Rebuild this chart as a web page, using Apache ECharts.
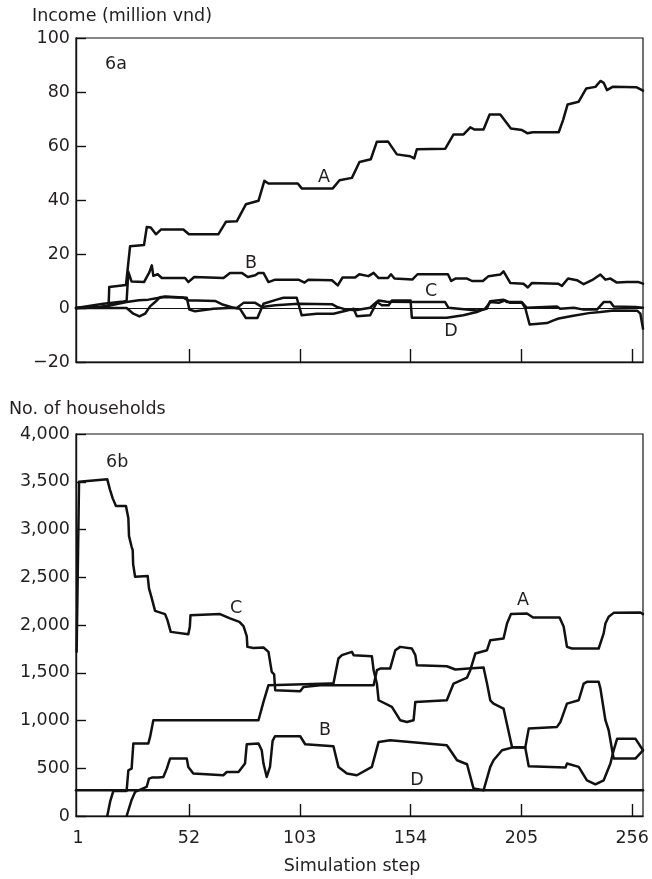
<!DOCTYPE html>
<html>
<head>
<meta charset="utf-8">
<script src="https://cdn.jsdelivr.net/npm/echarts@6/dist/echarts.min.js"></script>
<style>
  html, body { margin: 0; padding: 0; background: #fff; }
  #chart { width: 652px; height: 879px; }
</style>
</head>
<body>
<div id="chart"></div>
<script>
// Simulation steps shown on the shared x axis
const stepTicks = [1, 52, 103, 154, 205, 256];

// 6a: income per household group (million vnd), [step, value]
const incomeA = [[0,0],[11,0.2],[15,0.5],[15.3,7.8],[23,8.5],[24.9,22.9],[31.3,23.3],[32.6,30.0],[34.4,29.8],[36.8,27.3],[39.2,29.1],[49.4,29.1],[52,27.3],[65.5,27.3],[69,31.9],[74,32.1],[78.2,38.4],[84,39.7],[86.7,47.1],[88.6,46.1],[102.1,46.1],[103.9,44.3],[118.2,44.3],[121.3,47.3],[127,48.2],[130.5,54.1],[135.7,55.1],[138.5,61.6],[143.6,61.7],[147.7,56.9],[153.8,56.2],[155.7,55.4],[156.9,58.8],[170,59],[173.8,64.3],[178.4,64.3],[181.5,66.9],[183.5,66.1],[187.6,66.1],[190.4,71.7],[195.3,71.7],[200.2,66.5],[205.3,65.9],[207.9,64.7],[210.2,65.1],[222.2,65.1],[224.2,69.6],[226.3,75.4],[231.4,76.4],[234.9,81.3],[239.1,81.9],[241.4,84.1],[242.9,83.4],[244.4,80.7],[247,81.9],[257.9,81.8],[261,80.5]];
const incomeB = [[0,0],[12.6,1.6],[21.8,2.4],[23.3,2.6],[24.1,13.4],[25.6,9.8],[31.3,9.6],[33.8,13.3],[34.9,15.8],[35.6,11.9],[37.6,12.5],[39.5,11.1],[50.2,11.1],[51.7,9.6],[54.4,11.5],[67.9,11.1],[70.9,13.0],[76.3,13.0],[79.1,11.5],[82.5,12.1],[84,13.0],[86.3,13.0],[88.6,9.6],[91.7,10.5],[102.4,10.5],[105.2,9.4],[107,10.5],[117.8,10.3],[120.5,8.4],[122.7,11.3],[128.5,11.3],[130.4,12.5],[134.6,11.8],[137,13.0],[139.3,11.1],[143.6,11.1],[145,12.5],[146.6,10.9],[154.9,10.6],[157.2,12.5],[171.2,12.5],[172.7,10.0],[174.6,10.9],[180,10.9],[182.3,10.0],[187.3,10.0],[189.9,11.8],[195.3,12.4],[196.8,13.6],[199.9,9.3],[206,9.0],[208,7.6],[209.9,9.3],[221.9,9.0],[223.7,8.2],[226.5,10.9],[230.6,10.3],[233.7,8.8],[237.5,10.3],[241.4,12.4],[243.7,10.5],[246,10.9],[249,9.4],[253.6,9.6],[259,9.6],[261,9.0]];
const incomeC = [[0,0],[11,0.5],[15.6,0.9],[23.3,2.2],[29,2.9],[33.3,3.1],[37,3.6],[41,4.1],[49.4,3.8],[51.7,2.8],[55.6,2.8],[64,2.6],[67.1,1.4],[72.4,0.1],[74,0],[77.1,1.9],[82.5,1.9],[85.5,0.4],[91.7,1.0],[102.4,1.6],[117.8,1.4],[120.1,0.4],[124,-0.5],[128.5,-0.8],[135.4,0.1],[137.7,1.8],[139.3,2.8],[143,2.3],[156.9,2.2],[169.9,2.2],[171.4,0.1],[184.5,-0.9],[189.1,-0.3],[190.6,2.5],[196.8,3.1],[198.3,2.2],[205.2,2.2],[207.5,0.1],[208.3,0.6],[221.4,0.6],[222.9,-0.3],[229.1,0.1],[233.7,-0.6],[239.8,-0.6],[242.9,2.2],[246,2.2],[247.5,0.6],[257.5,0.4],[261,0.1]];
const incomeD = [[0,0],[23.3,0],[26.4,-2.1],[29.2,-3.1],[31.8,-2.1],[34.1,0.6],[36.8,2.5],[38.7,4.0],[41,4.3],[49.4,3.9],[51,3.8],[52.2,-0.6],[54.8,-1.2],[63.3,-0.3],[72.4,0.1],[75.5,-0.3],[78.2,-3.7],[83.5,-3.7],[86.3,1.6],[92.4,3.1],[95.5,3.8],[101.6,3.8],[103.9,-2.7],[110.8,-2.1],[118.5,-2.1],[124.7,-0.9],[127.8,-0.3],[129.3,-3.1],[135.4,-2.7],[138.5,2.2],[140.8,1.0],[143.9,1.0],[145.4,2.8],[154,2.8],[154.6,-3.6],[170.7,-3.6],[178.3,-2.7],[184.5,-1.5],[188.4,-0.2],[190.7,2.2],[194.6,1.9],[197.6,2.8],[199.9,1.9],[205.3,1.9],[206.8,0.0],[208.8,-6.1],[216.8,-5.6],[219.8,-4.6],[222.2,-3.9],[228.3,-3.0],[236,-1.9],[241.4,-1.5],[247.5,-0.9],[258.3,-1.0],[259.8,-2.1],[261,-7.7]];

// 6b: number of households per group, [step, count]
const householdsA = [[14.4,0],[15.7,150],[17.2,262],[23.3,262],[24.1,479],[25.6,496],[26.4,759],[33.3,759],[34.1,828],[35.6,1003],[84,1003],[86.3,1195],[88.6,1370],[117,1387],[118.5,1387],[120.8,1649],[122.4,1684],[127,1719],[127.8,1684],[136.2,1673],[137,1527],[138.5,1387],[139.3,1212],[145.4,1143],[149.2,1003],[152.3,985],[155.4,1003],[156.2,1195],[170.7,1212],[173.8,1387],[180,1450],[181.5,1527],[183.8,1701],[189.2,1736],[190.7,1841],[191.5,1834],[196.8,1859],[198.4,2016],[200.2,2114],[207.6,2121],[210.4,2079],[222.6,2079],[224.5,1981],[226,1771],[228.3,1754],[240.6,1754],[242.9,1912],[243.7,2016],[245.2,2086],[247.5,2127],[259.8,2131],[261,2114]];
const householdsB = [[23.3,0],[25.6,168],[27.2,252],[32.5,304],[33.6,392],[34.9,402],[37.9,402],[40.2,409],[41.8,496],[43.3,601],[51,601],[51.7,514],[54,444],[67.8,427],[69.4,461],[74.8,461],[77.8,549],[78.6,751],[84,759],[85.5,688],[86.3,549],[87.8,409],[89.3,514],[90.5,786],[91.6,835],[103.2,835],[105.5,751],[118.5,730],[120.8,514],[124.7,444],[129.3,427],[136.2,514],[139.3,776],[144.6,793],[170.7,741],[172.3,688],[175.4,584],[180,542],[183,287],[187.6,269],[190.7,514],[192.2,584],[196.1,688],[200.7,716],[206.8,716],[208.4,521],[225.3,507],[226,549],[231.4,514],[235.2,374],[239.1,332],[242.9,374],[246,549],[247.5,688],[249.1,810],[257.5,810],[261,688]];
const householdsC = [[0.3,1720],[1.4,3500],[14.4,3525],[15.7,3413],[16.9,3326],[18.4,3246],[23,3246],[24.1,3117],[24.4,2931],[25.6,2819],[26.1,2784],[26.3,2638],[26.9,2627],[27.2,2505],[33,2512],[33.6,2383],[34.5,2367],[34.7,2295],[36.4,2148],[41,2114],[42.1,2051],[43.6,1928],[51.7,1904],[52.4,1981],[52.7,2103],[66.3,2114],[70.9,2069],[75.2,2033],[77.1,1988],[78.6,1883],[78.9,1771],[81.7,1760],[86.3,1765],[88.6,1719],[90.1,1509],[91.2,1484],[91.7,1317],[92.4,1300],[103.2,1307],[104.7,1352],[112.4,1370],[137,1370],[138.5,1527],[140,1544],[144.6,1544],[147,1736],[149.2,1771],[154.6,1754],[156.2,1684],[156.9,1579],[170.7,1568],[174.6,1534],[180.7,1544],[187.6,1554],[189.2,1387],[190.7,1212],[192.2,1177],[196.8,1125],[200.7,723],[206.8,716],[208.4,915],[221.4,933],[223,985],[226,1177],[231.4,1212],[233.7,1387],[235.2,1405],[240.6,1405],[241.4,1335],[243.7,1003],[245.2,898],[246.8,688],[247.5,601],[257.5,601],[261,688]];
const householdsD = [[0,270],[261,270]];

const FONT = '"DejaVu Sans", "Liberation Sans", sans-serif';
const INK = '#231f20';
const FS = 17.5;

const chart = echarts.init(document.getElementById('chart'), null, { renderer: 'canvas' });

function lineSeries(data, xi) {
  return {
    type: 'line',
    xAxisIndex: xi,
    yAxisIndex: xi,
    data: data,
    showSymbol: false,
    symbol: 'none',
    silent: true,
    lineStyle: { color: '#111', width: 2.5, join: 'round', cap: 'round' },
    z: 3
  };
}

function xAxisFor(idx, showLabels) {
  return {
    type: 'value',
    gridIndex: idx,
    min: 0,
    max: 261,
    axisLine: { show: true, onZero: false, lineStyle: { color: '#111', width: 1.4 } },
    axisTick: {
      show: true, inside: true, length: idx === 0 ? 13 : 12,
      customValues: stepTicks.slice(1),
      lineStyle: { color: '#111', width: 1.4 }
    },
    axisLabel: {
      show: showLabels,
      customValues: stepTicks,
      margin: 13,
      color: INK,
      fontFamily: FONT,
      fontSize: FS
    },
    splitLine: { show: false }
  };
}

function yAxisFor(idx, min, max, interval, fmt) {
  return {
    type: 'value',
    gridIndex: idx,
    min: min,
    max: max,
    interval: interval,
    axisLine: { show: true, onZero: false, lineStyle: { color: '#111', width: 1.4 } },
    axisTick: { show: true, inside: true, length: 10, lineStyle: { color: '#111', width: 1.4 } },
    axisLabel: { margin: 6, color: INK, fontFamily: FONT, fontSize: FS, formatter: fmt },
    splitLine: { show: false }
  };
}

function label(text, x, y, align) {
  return {
    type: 'text',
    x: x,
    y: y,
    silent: true,
    style: {
      text: text,
      fill: INK,
      font: FS + 'px ' + FONT,
      textAlign: align || 'center',
      textVerticalAlign: 'middle'
    }
  };
}

const topSeries = [incomeA, incomeB, incomeC, incomeD].map(d => lineSeries(d, 0));
// zero reference line across the income panel
topSeries[0].markLine = {
  silent: true,
  symbol: ['none', 'none'],
  label: { show: false },
  lineStyle: { color: '#111', width: 1, type: 'solid' },
  data: [{ yAxis: 0 }]
};
const bottomSeries = [householdsA, householdsB, householdsC, householdsD].map(d => lineSeries(d, 1));

chart.setOption({
  animation: false,
  backgroundColor: '#ffffff',
  grid: [
    { left: 76, top: 38, width: 567, height: 324, show: true, borderColor: '#111', borderWidth: 1.2, backgroundColor: 'transparent' },
    { left: 76, top: 434, width: 567, height: 382, show: true, borderColor: '#111', borderWidth: 1.2, backgroundColor: 'transparent' }
  ],
  xAxis: [xAxisFor(0, false), xAxisFor(1, true)],
  yAxis: [
    yAxisFor(0, -20, 100, 20, v => String(v).replace('-', '\u2212')),
    yAxisFor(1, 0, 4000, 500, v => v.toLocaleString('en-US'))
  ],
  series: topSeries.concat(bottomSeries),
  graphic: [
    label('Income (million vnd)', 32, 16, 'left'),
    label('6a', 105, 64, 'left'),
    label('A', 324, 177),
    label('B', 251, 263),
    label('C', 431, 291),
    label('D', 451, 331),
    label('No. of households', 9, 409, 'left'),
    label('6b', 106, 462, 'left'),
    label('C', 236, 608),
    label('A', 523, 600),
    label('B', 325, 730),
    label('D', 417, 780),
    label('Simulation step', 352, 866)
  ]
});
</script>
</body>
</html>
